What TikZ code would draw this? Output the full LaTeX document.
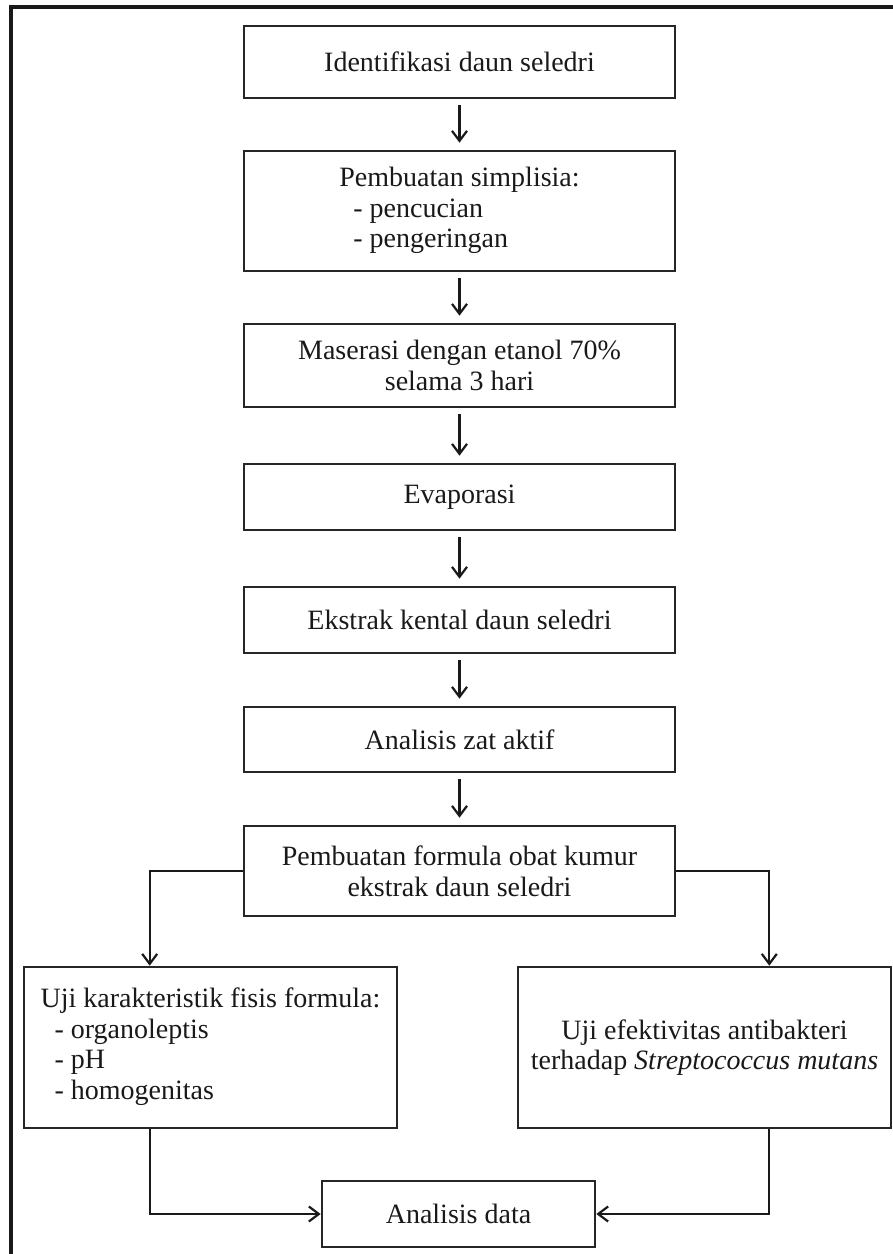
\documentclass[tikz,border=0pt]{standalone}
\usepackage{fontspec}
\setmainfont{Liberation Serif}
\usepackage{tikz}
\usetikzlibrary{arrows.meta}

\begin{document}
\begin{tikzpicture}[x=0.5pt,y=-0.5pt,
    box/.style={draw=black!85,line width=1.3pt,minimum width=215.5pt,
      align=center,font=\fontsize{14}{15.3}\selectfont,text=black!90},
    flow/.style={-{Straight Barb[length=5pt,width=7.5pt]},line width=1.1pt,
      black!90,shorten <=3pt,shorten >=3.5pt},
    arr/.style={-{Straight Barb[length=5pt,width=7.5pt]},line width=1.1pt,black!90}]
  \useasboundingbox (0,0) rectangle (893,1254);
  % outer frame (only top and left edge visible)
  \draw[line width=1.8pt,black!90] (11,1260) -- (11,7) -- (900,7);

  \node[box,minimum height=36pt] (iden) at (459.5,62) {Identifikasi daun seledri};
  \node[box,minimum height=60pt] (simp) at (459.5,211)
    {\begin{tabular}{@{}l@{}}Pembuatan simplisia:\\\hspace*{7pt}- pencucian\\\hspace*{7pt}- pengeringan\end{tabular}};
  \node[box,minimum height=41.5pt] (mase) at (459.5,365.5)
    {Maserasi dengan etanol 70\%\\selama 3 hari};
  \node[box,minimum height=33pt] (evap) at (459.5,497) {Evaporasi};
  \node[box,minimum height=33pt] (ekst) at (459.5,620) {Ekstrak kental daun seledri};
  \node[box,minimum height=32.5pt] (zat) at (459.5,739.5) {Analisis zat aktif};
  \node[box,minimum height=45pt] (form) at (459.5,871)
    {Pembuatan formula obat kumur\\ekstrak daun seledri};

  \node[box,minimum width=186.5pt,minimum height=80.5pt] (fis) at (210.5,1047.5)
    {\begin{tabular}{@{}l@{}}Uji karakteristik fisis formula:\\\hspace*{7pt}- organoleptis\\\hspace*{7pt}- pH\\\hspace*{7pt}- homogenitas\end{tabular}};
  \node[box,minimum width=186.5pt,minimum height=80.5pt] (anti) at (704.5,1047.5)
    {Uji efektivitas antibakteri\\terhadap \textit{Streptococcus mutans}};
  \node[box,minimum width=136.5pt,minimum height=33pt] (data) at (458.5,1214) {Analisis data};

  \draw[flow] (iden) -- (simp);
  \draw[flow] (simp) -- (mase);
  \draw[flow] (mase) -- (evap);
  \draw[flow] (evap) -- (ekst);
  \draw[flow] (ekst) -- (zat);
  \draw[flow] (zat) -- (form);

  \coordinate (lft) at ([xshift=-46.5pt]form.west);
  \coordinate (rgt) at ([xshift=46.5pt]form.east);
  \draw[arr] (form.west) -- (lft) -- (lft |- fis.north);
  \draw[arr] (form.east) -- (rgt) -- (rgt |- anti.north);
  \draw[arr] (lft |- fis.south) |- (data.west);
  \draw[arr] (rgt |- anti.south) |- (data.east);
\end{tikzpicture}
\end{document}
